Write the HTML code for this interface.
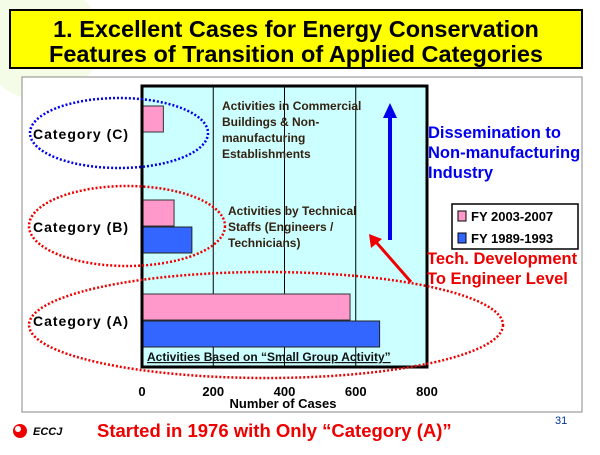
<!DOCTYPE html>
<html><head><meta charset="utf-8"><style>
body{margin:0;width:600px;height:450px;background:#fff;overflow:hidden;font-family:"Liberation Sans",sans-serif;}
svg text{font-family:"Liberation Sans",sans-serif;font-weight:bold;}
</style></head><body>
<svg width="600" height="450">
<circle cx="40" cy="40" r="60" fill="#f4fbe6"/>
<rect x="10" y="10" width="572" height="58" fill="#ffff00" stroke="#000" stroke-width="2"/>
<text x="296" y="37" font-size="23.5" text-anchor="middle">1. Excellent Cases for Energy Conservation</text>
<text x="296" y="62" font-size="23.5" text-anchor="middle">Features of Transition of Applied Categories</text>
<rect x="22" y="77" width="560" height="335" fill="#fff" stroke="#888" stroke-width="1"/>
<g id="chart"></g>
<text x="33" y="139" font-size="14" letter-spacing="1">Category (C)</text>
<text x="33" y="232" font-size="14" letter-spacing="1">Category (B)</text>
<text x="33" y="326" font-size="14" letter-spacing="1">Category (A)</text>
<ellipse cx="119" cy="133" rx="89" ry="35" fill="none" stroke="#0000ee" stroke-width="2.5" stroke-dasharray="2,2"/>
<ellipse cx="127" cy="226" rx="98" ry="40" fill="none" stroke="#ee0000" stroke-width="2.5" stroke-dasharray="2,2"/>
<ellipse cx="266" cy="325" rx="237" ry="53" fill="none" stroke="#ee0000" stroke-width="2.5" stroke-dasharray="2,2"/>
<g font-size="12" fill="#332211">
<text x="222" y="110">Activities in Commercial</text><text x="222" y="126">Buildings &amp; Non-</text><text x="222" y="142">manufacturing</text><text x="222" y="158">Establishments</text></g>
<g font-size="12" fill="#332211">
<text x="228" y="215">Activities by Technical</text><text x="228" y="231">Staffs (Engineers /</text><text x="228" y="247">Technicians)</text></g>
<text x="147" y="361" font-size="12" fill="#111" text-decoration="underline">Activities Based on “Small Group Activity”</text>
<line x1="390" y1="240" x2="390" y2="115" stroke="#0000ee" stroke-width="4"/>
<polygon points="390,103 383,118 397,118" fill="#0000ee"/>
<line x1="411" y1="282" x2="376" y2="242" stroke="#ee0000" stroke-width="3"/>
<polygon points="369,234 371,248 382,239" fill="#ee0000"/>
<g font-size="16.5" fill="#0000ee">
<text x="428" y="138">Dissemination to</text><text x="428" y="158">Non-manufacturing</text><text x="428" y="178">Industry</text></g>
<g font-size="16.5" fill="#ee0000">
<text x="427" y="264">Tech. Development</text><text x="427" y="284">To Engineer Level</text></g>
<rect x="452" y="204" width="126" height="45" fill="#fff" stroke="#000" stroke-width="1.5"/>
<rect x="458" y="211" width="8" height="10" fill="#ff99cc" stroke="#000"/>
<text x="471" y="221" font-size="13">FY 2003-2007</text>
<rect x="458" y="233" width="8" height="10" fill="#3366ff" stroke="#000"/>
<text x="471" y="243" font-size="13">FY 1989-1993</text>
<text x="283" y="408" font-size="13" text-anchor="middle">Number of Cases</text>
<circle cx="20" cy="431" r="7" fill="#ee0000"/>
<circle cx="18" cy="429" r="3" fill="#fff"/>
<text x="33" y="435" font-size="11" font-style="italic" font-family="Liberation Serif">ECCJ</text>
<text x="97" y="437" font-size="18.5" fill="#ee0000">Started in 1976 with Only “Category (A)”</text>
<text x="555" y="424" font-size="11" fill="#003399" style="font-weight:normal">31</text>
</svg>
<script>
const categories=["Category (A)","Category (B)","Category (C)"];
const fy2003=[584,90,60];
const fy1989=[667,140,0];
const ticks=[0,200,400,600,800];
const NS="http://www.w3.org/2000/svg";
const g=document.getElementById('chart');
const L=142,R=427,T=86,B=367,MAX=800;
const x=v=>L+(v/MAX)*(R-L);
const catTop=[294,200,106];
function mk(tag,a){const e=document.createElementNS(NS,tag);for(const k in a)e.setAttribute(k,a[k]);g.appendChild(e);return e;}
const bg=mk('rect',{x:L,y:T,width:R-L,height:B-T,fill:'#ccffff'});


ticks.forEach((t,i)=>{
  if(i>0&&i<ticks.length-1){const l=mk('line',{x1:x(t),x2:x(t),y1:T,y2:B,stroke:'#000','stroke-width':1});
  
  }
  const tx=mk('text',{x:x(t),y:396,'font-size':13,'text-anchor':'middle'});tx.textContent=t;
  
  
});
categories.forEach((c,i)=>{
  const y0=catTop[i];
  if(fy2003[i]>0){const r=mk('rect',{x:L,y:y0,width:x(fy2003[i])-L,height:26,fill:'#ff99cc',stroke:'#333'});
  
  }
  if(fy1989[i]>0){const r=mk('rect',{x:L,y:y0+27,width:x(fy1989[i])-L,height:26,fill:'#3366ff',stroke:'#222'});
  
  }
});
const fr=mk('rect',{x:L,y:T,width:R-L,height:B-T,fill:'none',stroke:'#000','stroke-width':3});


</script>
</body></html>
